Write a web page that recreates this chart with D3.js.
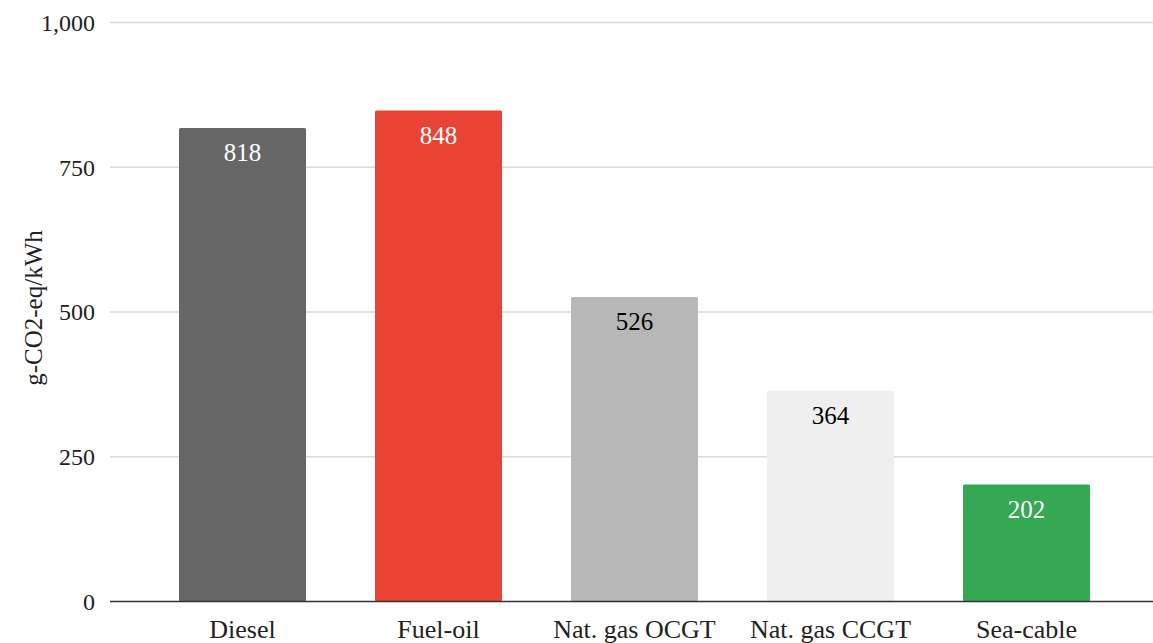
<!DOCTYPE html>
<html>
<head>
<meta charset="utf-8">
<script src="https://cdn.jsdelivr.net/npm/d3@7"></script>
<style>
  body { margin: 0; background: #fff; }
</style>
</head>
<body>
<svg id="chart"></svg>
<script>
const categories = ['Diesel', 'Fuel-oil', 'Nat. gas OCGT', 'Nat. gas CCGT', 'Sea-cable'];
const values = [818, 848, 526, 364, 202];
const barColors = ['#666666', '#ea4335', '#b7b7b7', '#efefef', '#34a853'];
const labelColors = ['#ffffff', '#ffffff', '#000000', '#000000', '#ffffff'];
const yTicks = [0, 250, 500, 750, 1000];

const width = 1153, height = 643;
const serif = "'Liberation Serif', 'Times New Roman', Times, 'DejaVu Serif', serif";
const svg = d3.select('#chart').attr('width', width).attr('height', height)
    .attr('font-family', serif);

const gridLeft = 110, gridRight = 1153;
const x = d3.scaleBand().domain(categories).range([144.5, 1124.5]).paddingInner(0.352).paddingOuter(0.176);
const y = d3.scaleLinear().domain([0, 1000]).range([601.5, 22.5]);

// gridlines
svg.append('g').selectAll('line').data(yTicks.filter(d => d > 0)).enter().append('line')
    .attr('x1', gridLeft).attr('x2', gridRight)
    .attr('y1', d => y(d)).attr('y2', d => y(d))
    .attr('stroke', '#d9d9d9').attr('stroke-width', 1.5);

// y tick labels
svg.append('g').selectAll('text').data(yTicks).enter().append('text')
    .attr('x', 95).attr('y', d => y(d)).attr('dy', '0.35em')
    .attr('text-anchor', 'end').attr('font-size', 24).attr('fill', '#222')
    .style('font-family', serif)
    .text(d => d3.format(',')(d));

// bars
svg.append('g').selectAll('rect').data(values).enter().append('rect')
    .attr('x', (d, i) => x(categories[i])).attr('width', x.bandwidth())
    .attr('y', d => y(d)).attr('height', d => y(0) - y(d))
    .attr('rx', 1.5)
    .attr('fill', (d, i) => barColors[i]);

// value labels
svg.append('g').selectAll('text').data(values).enter().append('text')
    .attr('x', (d, i) => x(categories[i]) + x.bandwidth() / 2)
    .attr('y', d => y(d) + 33)
    .attr('text-anchor', 'middle').attr('font-size', 25)
    .attr('fill', (d, i) => labelColors[i])
    .style('font-family', serif)
    .text(d => d);

// baseline
svg.append('line').attr('x1', gridLeft).attr('x2', gridRight)
    .attr('y1', y(0)).attr('y2', y(0)).attr('stroke', '#333').attr('stroke-width', 1.5);

// x labels
svg.append('g').selectAll('text').data(categories).enter().append('text')
    .attr('x', d => x(d) + x.bandwidth() / 2).attr('y', 638)
    .attr('text-anchor', 'middle').attr('font-size', 26).attr('fill', '#222')
    .style('font-family', serif)
    .text(d => d);

// y title
svg.append('text')
    .attr('transform', 'translate(42,308) rotate(-90)')
    .attr('text-anchor', 'middle').attr('font-size', 25).attr('fill', '#222')
    .style('font-family', serif)
    .text('g-CO2-eq/kWh');
</script>
</body>
</html>
